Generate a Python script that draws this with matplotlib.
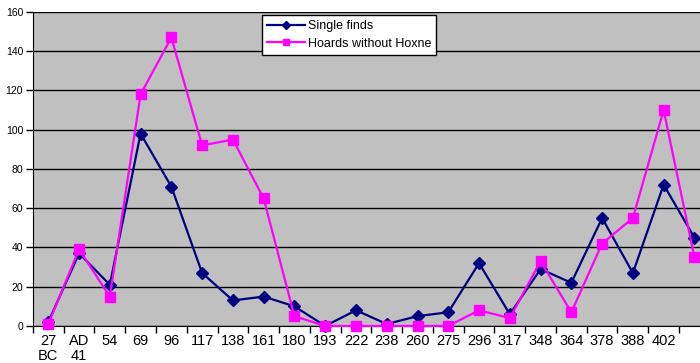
import numpy as np
import matplotlib.pyplot as plt

# coin dates (period starts) and counts per period
periods = ["27\nBC", "AD\n41", "54", "69", "96", "117", "138", "161", "180", "193", "222",
           "238", "260", "275", "296", "317", "348", "364", "378", "388", "402", ""]
single_finds = [2, 37, 21, 98, 71, 27, 13, 15, 10, 0, 8,
                1, 5, 7, 32, 6, 29, 22, 55, 27, 72, 45]
hoards = [1, 39, 15, 118, 147, 92, 95, 65, 5, 0, 0,
          0, 0, 0, 8, 4, 33, 7, 42, 55, 110, 35]

plt.rcParams['font.family'] = ['Liberation Sans', 'DejaVu Sans']

fig = plt.figure(figsize=(7.0, 3.63), dpi=100)
ax = fig.add_axes([0.047, 0.102, 0.967, 0.865])
ax.set_facecolor('#c0c0c0')

x = np.arange(len(periods))
ax.plot(x, single_finds, color='#000080', lw=1.6, marker='D', ms=6.5,
        label='Single finds', zorder=3, clip_on=False)
ax.plot(x, hoards, color='#ff00ff', lw=1.6, marker='s', ms=6.5,
        label='Hoards without Hoxne', zorder=4, clip_on=False)

ax.set_xlim(-0.5, len(periods) - 0.5)
ax.set_ylim(0, 160)
ax.set_yticks(range(0, 161, 20))
ax.yaxis.grid(True, color='black', lw=1)
ax.set_axisbelow(True)

# labels centred on categories, ticks on the boundaries
ax.set_xticks(x)
ax.set_xticklabels(periods, fontsize=10.5, linespacing=1.1)
ax.set_xticks(np.arange(-0.5, len(periods)), minor=True)
ax.tick_params(axis='x', which='major', length=0, pad=6)
ax.tick_params(axis='x', which='minor', length=5, width=1, color='black')
ax.tick_params(axis='y', length=5, width=1, labelsize=7.5, pad=2)

for side in ['top', 'right']:
    ax.spines[side].set_visible(False)
ax.spines['left'].set_color('black')
ax.spines['bottom'].set_color('black')

leg = ax.legend(loc='upper left', bbox_to_anchor=(0.338, 0.99), fontsize=9,
                frameon=True, fancybox=False, edgecolor='black', framealpha=1,
                handlelength=3.1, borderpad=0.4, labelspacing=0.45,
                handletextpad=0.2, borderaxespad=0, markerscale=0.6)
leg.get_frame().set_linewidth(1)

fig.savefig('out.png', dpi=100)
